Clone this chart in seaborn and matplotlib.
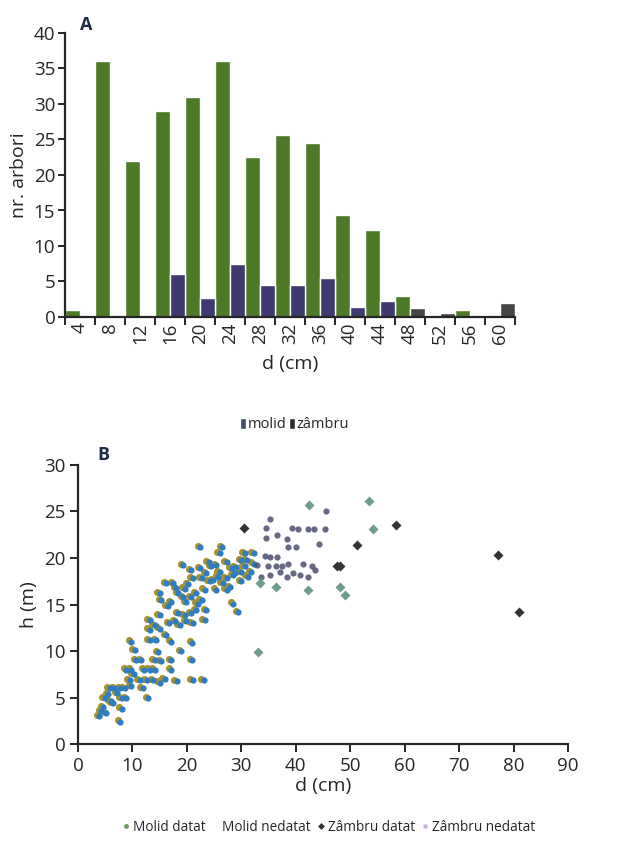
import matplotlib
matplotlib.use("Agg")
import matplotlib.pyplot as plt
import matplotlib.transforms as mtransforms
from matplotlib.ticker import MultipleLocator, FixedLocator
from matplotlib.lines import Line2D
from matplotlib.patches import Patch
import seaborn as sns
import pandas as pd
import numpy as np

# ---------------- data: panel A ----------------
diam_classes = [4, 8, 12, 16, 20, 24, 28, 32, 36, 40, 44, 48, 52, 56, 60]
molid_counts = [1, 36, 22, 29, 31, 36, 22.5, 25.7, 24.5, 14.3, 12.3, 3, 0.3, 1, 0]
zambru_counts = [0, 0, 0, 6, 2.7, 7.5, 4.5, 4.5, 5.5, 1.4, 2.2, 1.3, 0.5, 0, 2]
species_labels = ["molid", "zâmbru"]

# ---------------- data: panel B ----------------
molid_datat_d = [42.4, 53.5, 54.2, 48.2, 49.1, 33.1, 33.4, 36.3, 42.3]
molid_datat_h = [25.7, 26.1, 23.1, 16.9, 16.0, 9.9, 17.3, 16.9, 16.6]

molid_nedatat_d = [3.9, 4.6, 4.9, 5.5, 5.2, 6.4, 5.8, 6.7, 7.7, 8.6, 7.7, 8.0, 8.0, 8.9,
                   8.9, 9.8, 9.8, 9.5, 10.7, 11.6, 12.2, 13.2, 14.1, 11.9, 12.9, 9.8, 10.4,
                   11.3, 12.6, 13.8, 15.0, 15.9, 17.1, 18.1, 17.1, 15.3, 14.1, 14.7, 14.4,
                   13.2, 13.2, 14.1, 15.0, 16.2, 17.1, 19.0, 21.0, 21.1, 23.1, 21.0, 15.0,
                   13.2, 16.8, 18.4, 17.8, 18.7, 19.6, 19.9, 21.1, 20.8, 21.7, 22.0, 23.3,
                   23.6, 15.0, 15.3, 17.1, 18.4, 16.2, 17.5, 19.6, 19.3, 20.8, 19.9, 21.7,
                   22.7, 19.3, 20.8, 22.4, 21.1, 22.7, 23.6, 24.5, 25.4, 26.0, 24.8, 25.7,
                   26.6, 27.3, 27.9, 28.5, 29.4, 28.8, 30.0, 30.6, 30.0, 31.2, 31.8, 32.3,
                   32.3, 30.6, 30.0, 28.5, 27.3, 22.4, 26.5, 26.0, 27.3, 28.2, 24.2, 23.3,
                   25.4, 4.3, 6.0, 7.2, 10.2, 16.5, 18.0, 20.2, 24.0, 29.0, 31.0]
molid_nedatat_h = [3.0, 4.0, 4.9, 5.4, 3.3, 4.4, 6.0, 6.0, 6.0, 6.0, 2.4, 3.8, 4.9, 4.9,
                   8.0, 8.0, 6.2, 6.9, 9.0, 9.0, 8.0, 8.0, 8.0, 6.0, 4.9, 11.0, 10.1,
                   6.9, 6.9, 6.9, 6.6, 7.0, 8.0, 6.8, 9.0, 8.9, 9.0, 9.9, 11.2,
                   11.2, 12.3, 12.8, 12.4, 11.7, 11.0, 10.0, 9.0, 6.9, 6.9, 10.9, 13.9,
                   13.3, 13.0, 14.1, 13.2, 12.8, 13.9, 13.2, 13.0, 14.1, 14.4, 15.1, 13.3,
                   14.4, 16.2, 15.5, 15.3, 16.2, 17.3, 17.3, 16.7, 15.8, 15.8, 15.3, 16.2,
                   15.5, 19.2, 18.7, 18.9, 17.8, 17.8, 18.4, 19.1, 19.2, 18.5, 17.6, 18.0,
                   17.3, 17.8, 16.9, 15.1, 14.2, 18.4, 18.5, 19.1, 17.5, 18.0, 18.5, 19.4,
                   20.5, 20.5, 19.8, 18.2, 16.6, 21.2, 21.2, 20.5, 19.6, 18.9, 17.5, 16.6,
                   16.6, 3.5, 4.6, 5.5, 7.5, 14.8, 16.8, 17.2, 19.6, 19.0, 19.8]

zambru_datat_d = [30.4, 58.4, 51.3, 77.2, 81.0, 47.5, 48.2]
zambru_datat_h = [23.2, 23.5, 21.4, 20.3, 14.2, 19.1, 19.1]

zambru_nedatat_d = [35.3, 34.5, 34.5, 36.6, 38.3, 39.3, 40.4, 42.3, 43.3, 45.4, 45.5, 44.3,
                    40.1, 38.5, 34.3, 35.2, 36.6, 34.9, 36.3, 37.4, 38.6, 41.3, 42.9,
                    43.5, 39.5, 40.7, 42.3, 33.6, 35.2, 37.1, 38.3, 32.8]
zambru_nedatat_h = [24.2, 23.2, 22.1, 22.5, 22.0, 23.2, 23.1, 23.1, 23.1, 23.1, 25.1, 21.5,
                    21.2, 21.2, 20.2, 20.1, 20.1, 19.1, 19.1, 19.1, 19.4, 19.4, 19.1,
                    18.7, 18.4, 18.2, 18.0, 18.0, 18.2, 18.5, 18.0, 19.2]

group_labels = ["Molid datat", "Molid nedatat", "Zâmbru datat", "Zâmbru nedatat"]

# ---------------- style ----------------
sns.set_theme(style="ticks")
plt.rcParams["font.family"] = ["Open Sans", "DejaVu Sans"]
plt.rcParams["axes.linewidth"] = 1.6
plt.rcParams["xtick.major.width"] = 1.4
plt.rcParams["ytick.major.width"] = 1.4
plt.rcParams["xtick.minor.width"] = 1.4

fig = plt.figure(figsize=(6.4, 8.63), dpi=100)

GREEN = "#4c7a27"
NAVY = "#3e3a70"
DARK = "#464646"

# ================= Panel A =================
axA = fig.add_axes([65 / 640, 1 - 317 / 863, 450 / 640, 284 / 863])
dfA = pd.DataFrame({
    "d": [str(v) for v in diam_classes] * 2,
    "n": molid_counts + zambru_counts,
    "sp": [species_labels[0]] * len(diam_classes) + [species_labels[1]] * len(diam_classes),
})
sns.barplot(data=dfA, x="d", y="n", hue="sp", order=[str(v) for v in diam_classes],
            hue_order=species_labels, palette={species_labels[0]: GREEN, species_labels[1]: NAVY},
            width=0.97, saturation=1, ax=axA, legend=False)
# darker grey for the last zâmbru bars as in the print
for i, p in enumerate(axA.containers[1].patches):
    if diam_classes[i] >= 48:
        p.set_facecolor(DARK)

axA.set_xlim(-0.5, len(diam_classes) - 0.5)
axA.set_ylim(0, 40)
axA.yaxis.set_major_locator(MultipleLocator(5))
axA.xaxis.set_minor_locator(FixedLocator(np.arange(-0.5, len(diam_classes), 1.0)))
axA.tick_params(axis="x", which="major", length=0, labelsize=13.5, pad=4)
axA.tick_params(axis="x", which="minor", length=6, direction="out")
axA.tick_params(axis="y", length=5, labelsize=13.5, pad=2)
for lab in axA.get_xticklabels():
    lab.set_rotation(90)
sns.despine(ax=axA)
axA.set_xlabel("d (cm)", fontsize=14, labelpad=8)
axA.set_ylabel("nr. arbori", fontsize=14, labelpad=4)
fig.text(86 / 640, 1 - 25 / 863, "A", fontsize=13, fontweight="bold", color="#1f2a44",
         ha="center", va="center")

legA_handles = [Patch(facecolor="#3d4b6b"), Patch(facecolor="#2b2b2b")]
legA = axA.legend(legA_handles, species_labels, loc="center", bbox_to_anchor=(0.51, -0.38),
                  ncol=2, frameon=False, fontsize=10.5,
                  handlelength=0.45, handleheight=0.8, handletextpad=0.1, columnspacing=0.15)

# ================= Panel B =================
axB = fig.add_axes([78 / 640, 1 - 744 / 863, 490 / 640, 279 / 863])

df_md = pd.DataFrame({"d": molid_datat_d, "h": molid_datat_h})
df_mn = pd.DataFrame({"d": molid_nedatat_d, "h": molid_nedatat_h})
df_zd = pd.DataFrame({"d": zambru_datat_d, "h": zambru_datat_h})
df_zn = pd.DataFrame({"d": zambru_nedatat_d, "h": zambru_nedatat_h})

shadow = mtransforms.offset_copy(axB.transData, fig=fig, x=-2.4, y=1.2, units="dots")
sns.scatterplot(data=df_mn, x="d", y="h", color="#a8922e", s=26, linewidth=0,
                ax=axB, transform=shadow, legend=False)
sns.scatterplot(data=df_mn, x="d", y="h", color="#2e7dc0", s=20, linewidth=0,
                ax=axB, legend=False)
sns.scatterplot(data=df_zn, x="d", y="h", color="#4c4f6e", s=20, linewidth=0,
                alpha=0.85, ax=axB, legend=False)
sns.scatterplot(data=df_md, x="d", y="h", color="#6f9c8c", s=26, linewidth=0,
                marker="D", ax=axB, legend=False)
sns.scatterplot(data=df_zd, x="d", y="h", color="#333333", s=26, linewidth=0,
                marker="D", ax=axB, legend=False)

axB.set_xlim(0, 90)
axB.set_ylim(0, 30)
axB.xaxis.set_major_locator(MultipleLocator(10))
axB.yaxis.set_major_locator(MultipleLocator(5))
axB.tick_params(axis="both", length=6, labelsize=13.5, pad=3)
sns.despine(ax=axB)
axB.set_xlabel("d (cm)", fontsize=14, labelpad=2)
axB.set_ylabel("h (m)", fontsize=14, labelpad=4)
fig.text(103 / 640, 1 - 455 / 863, "B", fontsize=13, fontweight="bold", color="#1f2a44",
         ha="center", va="center")

legB_handles = [
    Line2D([], [], ls="none", marker="o", ms=3.5, mfc="#6a9a60", mec="none"),
    Line2D([], [], ls="none", marker="o", ms=3.5, mfc="#ffffff", mec="none"),
    Line2D([], [], ls="none", marker="D", ms=3.5, mfc="#333333", mec="none"),
    Line2D([], [], ls="none", marker="s", ms=3.5, mfc="#c9a9dc", mec="none"),
]
legB = axB.legend(legB_handles, group_labels, loc="center", bbox_to_anchor=(0.51, -0.298),
                  ncol=4, frameon=False, fontsize=9.8,
                  handlelength=0.8, handletextpad=0.1, columnspacing=0.35)

fig.savefig("out.png", dpi=100)
